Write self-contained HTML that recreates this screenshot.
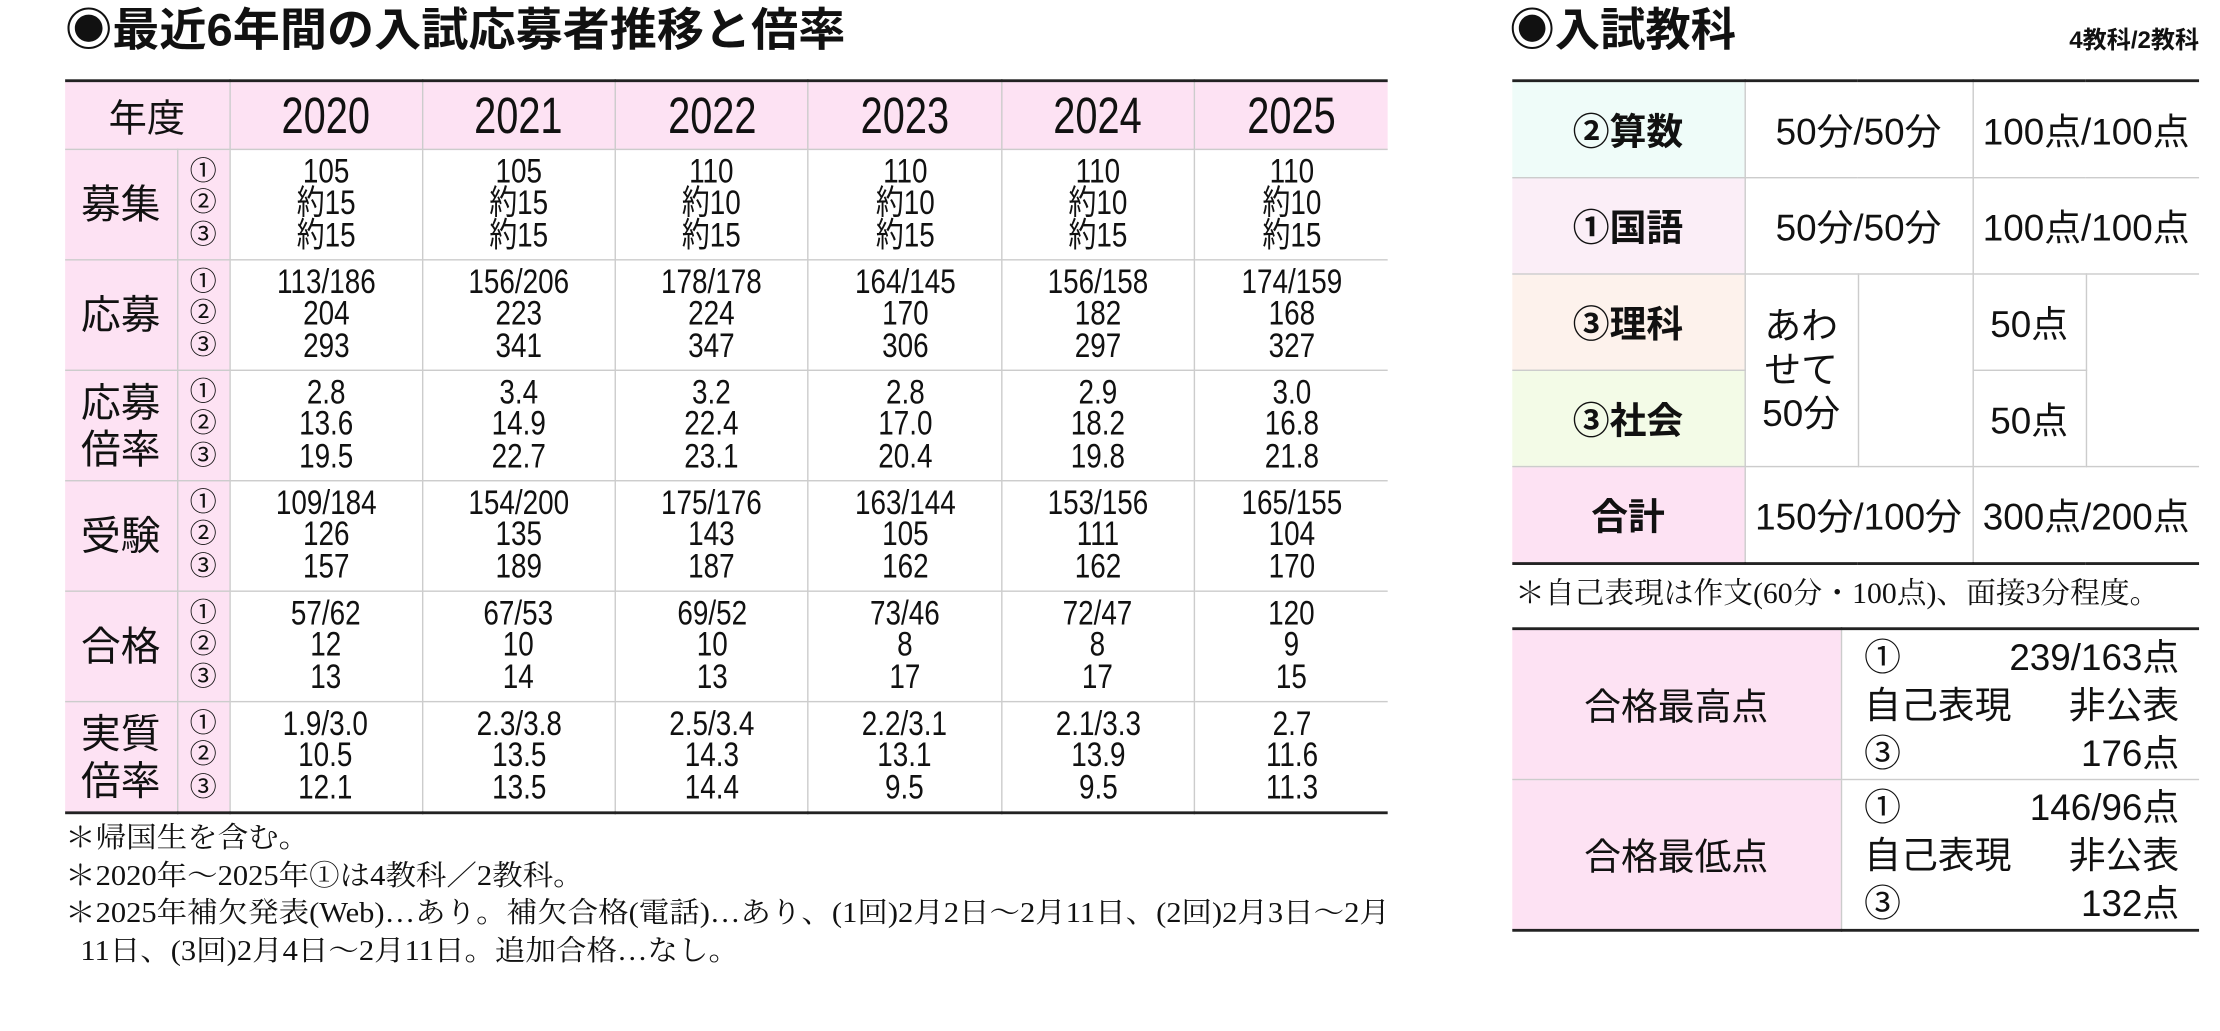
<!DOCTYPE html>
<html><head><meta charset="utf-8">
<style>
html,body{margin:0;padding:0;background:#fff;}
body{width:2220px;height:1030px;overflow:hidden;position:relative;}
#root{position:absolute;left:0;top:0;width:1568px;height:728px;transform:scale(1.416);transform-origin:0 0;font-family:"Liberation Sans","Noto Sans CJK JP",sans-serif;color:#111;}
.abs{position:absolute;}
.title{font-size:32px;font-weight:bold;top:1px;line-height:40px;white-space:nowrap;}
.cond{display:inline-block;transform-origin:0 50%;}
table{border-collapse:collapse;position:absolute;table-layout:fixed;}
#lt{left:46px;top:56px;width:934px;border-top:2px solid #222;border-bottom:2px solid #222;}
#lt td{border:1px solid #ccc;padding:0;text-align:center;vertical-align:middle;}
#lt tr td:first-child{border-left:none;}
#lt tr td:last-child{border-right:none;}
#lt .hd td{background:#fde2f3;height:47px;font-size:36px;}
#lt .hd td.yl{font-size:27px;}
.hn{display:inline-block;transform:scaleX(0.78);}
#lt .lab{background:#fde2f3;font-size:28px;line-height:33px;}
#lt .num{background:#fde2f3;font-size:19px;line-height:22.5px;}
#lt .d{height:77px;font-size:24px;line-height:22.5px;}
.n{display:inline-block;transform:scaleX(0.82);}
#rt{left:1068px;top:56px;width:485px;border-top:2px solid #222;border-bottom:2px solid #222;}
#rt td{border:1px solid #ccc;padding:0;text-align:center;vertical-align:middle;font-size:26px;height:67px;white-space:nowrap;}
#rt tr td:first-child{border-left:none;}
#rt tr td:last-child{border-right:none;}
#bt{left:1068px;top:443px;width:485px;border-top:2px solid #222;border-bottom:2px solid #222;}
#bt td{border:1px solid #ccc;padding:0;vertical-align:middle;height:105px;font-size:26px;}
#bt tr td:first-child{border-left:none;background:#fde2f3;text-align:center;}
#bt tr td:last-child{border-right:none;}
.note{font-family:"Liberation Serif","Noto Serif CJK JP",serif;font-size:20px;white-space:nowrap;line-height:26.5px;}
</style></head><body>
<div id="root">
<div class="abs title" style="left:46px"><span class="cond" style="transform:scaleX(1.04)">◉最近6年間の入試応募者推移と倍率</span></div>
<div class="abs title" style="left:1066px">◉入試教科</div>
<div class="abs" style="left:1410px;top:14px;width:143px;text-align:right;font-size:17px;font-weight:bold;">4教科/2教科</div>

<table id="lt">
<colgroup><col style="width:79px"><col style="width:37px"><col><col><col><col><col><col></colgroup>
<tr class="hd"><td colspan="2" class="yl">年度</td><td><span class="hn">2020</span></td><td><span class="hn">2021</span></td><td><span class="hn">2022</span></td><td><span class="hn">2023</span></td><td><span class="hn">2024</span></td><td><span class="hn">2025</span></td></tr>
<tr><td class="lab">募集</td><td class="num">①<br>②<br>③</td><td class="d"><span class="n">105<br>約15<br>約15</span></td><td class="d"><span class="n">105<br>約15<br>約15</span></td><td class="d"><span class="n">110<br>約10<br>約15</span></td><td class="d"><span class="n">110<br>約10<br>約15</span></td><td class="d"><span class="n">110<br>約10<br>約15</span></td><td class="d"><span class="n">110<br>約10<br>約15</span></td></tr>
<tr><td class="lab">応募</td><td class="num">①<br>②<br>③</td><td class="d"><span class="n">113/186<br>204<br>293</span></td><td class="d"><span class="n">156/206<br>223<br>341</span></td><td class="d"><span class="n">178/178<br>224<br>347</span></td><td class="d"><span class="n">164/145<br>170<br>306</span></td><td class="d"><span class="n">156/158<br>182<br>297</span></td><td class="d"><span class="n">174/159<br>168<br>327</span></td></tr>
<tr><td class="lab">応募<br>倍率</td><td class="num">①<br>②<br>③</td><td class="d"><span class="n">2.8<br>13.6<br>19.5</span></td><td class="d"><span class="n">3.4<br>14.9<br>22.7</span></td><td class="d"><span class="n">3.2<br>22.4<br>23.1</span></td><td class="d"><span class="n">2.8<br>17.0<br>20.4</span></td><td class="d"><span class="n">2.9<br>18.2<br>19.8</span></td><td class="d"><span class="n">3.0<br>16.8<br>21.8</span></td></tr>
<tr><td class="lab">受験</td><td class="num">①<br>②<br>③</td><td class="d"><span class="n">109/184<br>126<br>157</span></td><td class="d"><span class="n">154/200<br>135<br>189</span></td><td class="d"><span class="n">175/176<br>143<br>187</span></td><td class="d"><span class="n">163/144<br>105<br>162</span></td><td class="d"><span class="n">153/156<br>111<br>162</span></td><td class="d"><span class="n">165/155<br>104<br>170</span></td></tr>
<tr><td class="lab">合格</td><td class="num">①<br>②<br>③</td><td class="d"><span class="n">57/62<br>12<br>13</span></td><td class="d"><span class="n">67/53<br>10<br>14</span></td><td class="d"><span class="n">69/52<br>10<br>13</span></td><td class="d"><span class="n">73/46<br>8<br>17</span></td><td class="d"><span class="n">72/47<br>8<br>17</span></td><td class="d"><span class="n">120<br>9<br>15</span></td></tr>
<tr><td class="lab">実質<br>倍率</td><td class="num">①<br>②<br>③</td><td class="d"><span class="n">1.9/3.0<br>10.5<br>12.1</span></td><td class="d"><span class="n">2.3/3.8<br>13.5<br>13.5</span></td><td class="d"><span class="n">2.5/3.4<br>14.3<br>14.4</span></td><td class="d"><span class="n">2.2/3.1<br>13.1<br>9.5</span></td><td class="d"><span class="n">2.1/3.3<br>13.9<br>9.5</span></td><td class="d"><span class="n">2.7<br>11.6<br>11.3</span></td></tr>
</table>

<div class="abs note" style="left:46px;top:579px">
<div class="cond" style="transform:scaleX(1.077)">＊帰国生を含む。<br>＊2020年～2025年①は4教科／2教科。<br>＊2025年補欠発表(Web)…あり。補欠合格(電話)…あり、(1回)2月2日～2月11日、(2回)2月3日～2月<br>&nbsp;&nbsp;11日、(3回)2月4日～2月11日。追加合格…なし。</div>
</div>

<table id="rt">
<colgroup><col style="width:164px"><col style="width:80px"><col style="width:81px"><col style="width:80px"><col style="width:80px"></colgroup>
<tr><td style="background:#effcf9;font-weight:bold">②算数</td><td colspan="2">50分/50分</td><td colspan="2">100点/100点</td></tr>
<tr><td style="background:#fbeef7;font-weight:bold">①国語</td><td colspan="2">50分/50分</td><td colspan="2">100点/100点</td></tr>
<tr><td style="background:#fdf2ec;font-weight:bold">③理科</td><td rowspan="2" style="line-height:31px;white-space:normal">あわ<br>せて<br>50分</td><td rowspan="2"></td><td>50点</td><td rowspan="2"></td></tr>
<tr><td style="background:#f3fbe7;font-weight:bold">③社会</td><td>50点</td></tr>
<tr><td style="background:#fde2f3;font-weight:bold">合計</td><td colspan="2">150分/100分</td><td colspan="2">300点/200点</td></tr>
</table>

<div class="abs note" style="left:1070px;top:406px;font-size:21px">＊自己表現は作文(60分・100点)、面接3分程度。</div>

<table id="bt">
<colgroup><col style="width:232px"><col></colgroup>
<tr><td>合格最高点</td><td style="padding:0 14px 0 16px;line-height:34px">
<div style="display:flex;justify-content:space-between"><span>①</span><span>239/163点</span></div>
<div style="display:flex;justify-content:space-between"><span>自己表現</span><span>非公表</span></div>
<div style="display:flex;justify-content:space-between"><span>③</span><span>176点</span></div></td></tr>
<tr><td>合格最低点</td><td style="padding:0 14px 0 16px;line-height:34px">
<div style="display:flex;justify-content:space-between"><span>①</span><span>146/96点</span></div>
<div style="display:flex;justify-content:space-between"><span>自己表現</span><span>非公表</span></div>
<div style="display:flex;justify-content:space-between"><span>③</span><span>132点</span></div></td></tr>
</table>
</div>
</body></html>
